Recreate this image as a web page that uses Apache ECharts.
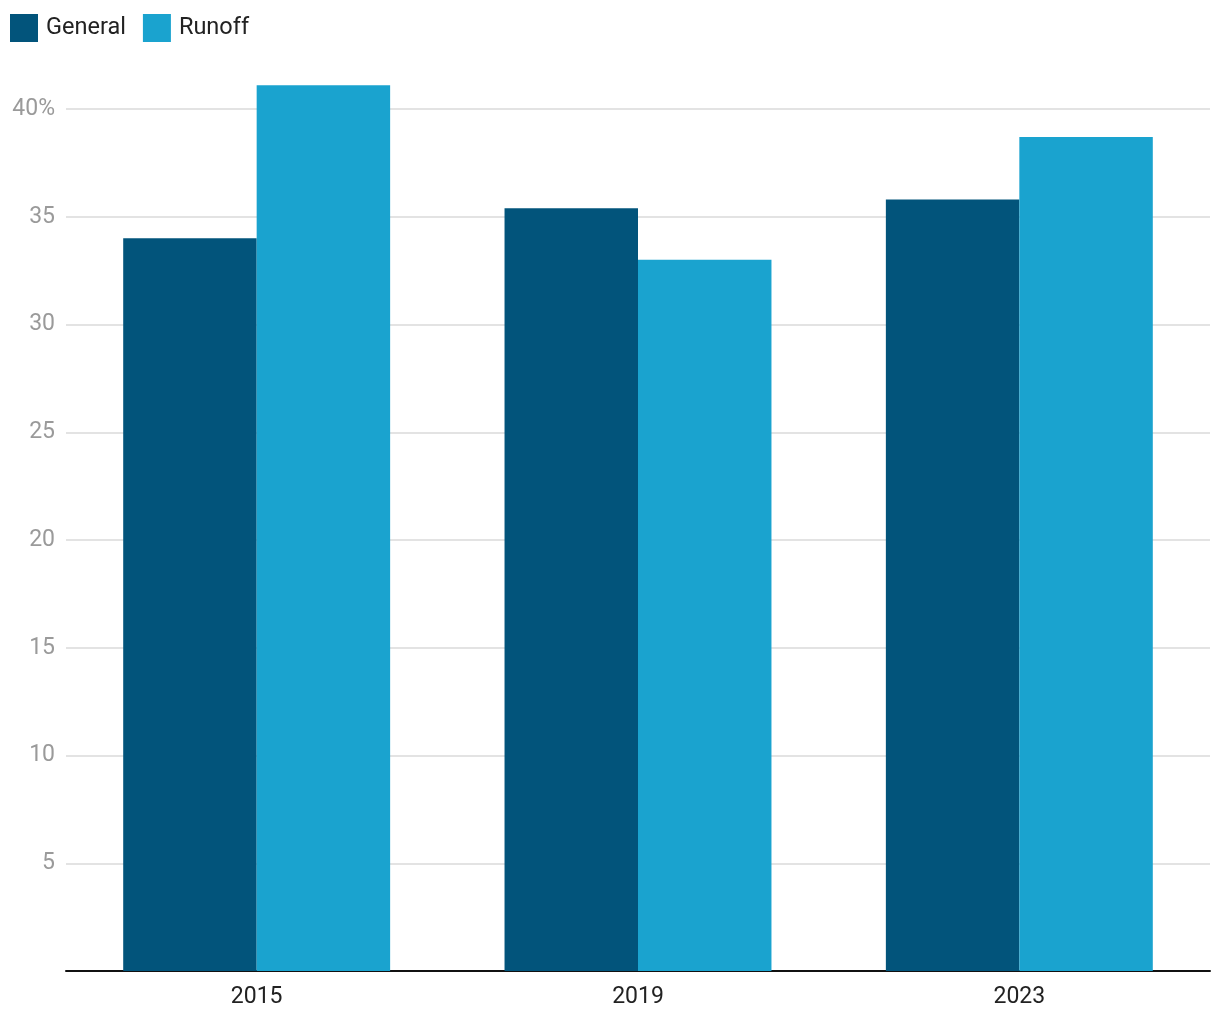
<!DOCTYPE html>
<html><head><meta charset="utf-8">
<script src="https://cdn.jsdelivr.net/npm/echarts@6/dist/echarts.min.js"></script>
<style>html,body{margin:0;padding:0;background:#fff}#c{width:1220px;height:1020px}</style>
</head><body><div id="c"></div>
<script>
const categories = ['2015', '2019', '2023'];
const general = [34.0, 35.4, 35.8];
const runoff = [41.1, 33.0, 38.7];
const seriesNames = ['General', 'Runoff'];

const chart = echarts.init(document.getElementById('c'));
chart.setOption({
  animation: false,
  textStyle: { fontFamily: 'Roboto' },
  color: ['#02547b', '#1aa3cf'],
  legend: {
    left: 5, top: 9, itemWidth: 28, itemHeight: 28, itemGap: 17,
    icon: 'rect',
    textStyle: { fontSize: 23.5, color: '#222', fontFamily: 'Roboto', padding: [0, 0, 0, 3] },
    data: seriesNames
  },
  grid: { left: 66, right: 10, top: 109, bottom: 49, containLabel: false },
  xAxis: {
    type: 'category', data: categories,
    axisLine: { lineStyle: { color: '#111', width: 2 } },
    axisTick: { show: false },
    axisLabel: { fontSize: 23, color: '#222', margin: 15 }
  },
  yAxis: {
    type: 'value', min: 0, max: 40, interval: 5,
    axisLine: { show: false }, axisTick: { show: false },
    axisLabel: {
      fontSize: 23, color: '#9a9a9a', margin: 11,
      formatter: v => v === 0 ? '' : (v === 40 ? '40%' : String(v))
    },
    splitLine: { lineStyle: { color: '#e3e3e3', width: 2 } }
  },
  series: [
    { name: seriesNames[0], type: 'bar', data: general, barGap: 0, barCategoryGap: '30%', clip: false },
    { name: seriesNames[1], type: 'bar', data: runoff, barGap: 0, barCategoryGap: '30%', clip: false }
  ]
});
</script></body></html>
